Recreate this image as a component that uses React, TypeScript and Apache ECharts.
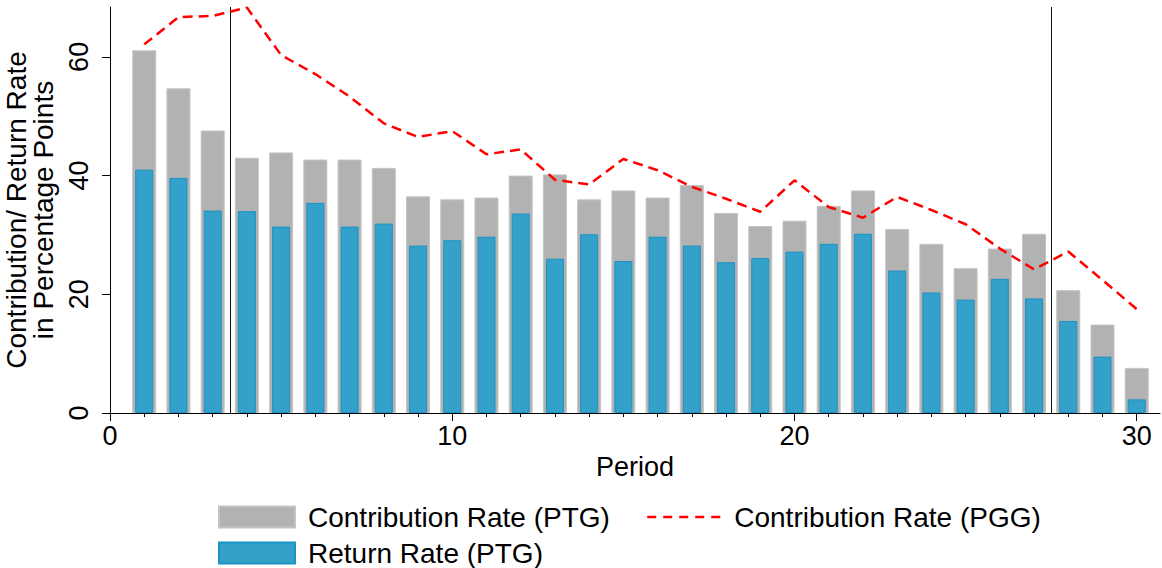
import { useEffect, useRef } from "react";
import * as echarts from "echarts";

const periods = [1, 2, 3, 4, 5, 6, 7, 8, 9, 10, 11, 12, 13, 14, 15, 16, 17, 18, 19, 20, 21, 22, 23, 24, 25, 26, 27, 28, 29, 30];
const contributionPTG = [61.1, 54.7, 47.6, 43.0, 43.9, 42.7, 42.7, 41.3, 36.5, 36.0, 36.3, 40.0, 40.2, 36.0, 37.5, 36.3, 38.4, 33.7, 31.5, 32.4, 34.9, 37.5, 31.0, 28.5, 24.4, 27.7, 30.2, 20.7, 14.9, 7.6];
const returnPTG = [41.0, 39.6, 34.1, 34.0, 31.4, 35.4, 31.4, 31.9, 28.2, 29.1, 29.7, 33.6, 26.0, 30.1, 25.6, 29.7, 28.2, 25.4, 26.1, 27.2, 28.5, 30.2, 24.0, 20.3, 19.1, 22.6, 19.3, 15.5, 9.5, 2.3];
const contributionPGG = [62.1, 66.7, 66.9, 68.3, 60.3, 57.1, 53.3, 48.8, 46.5, 47.5, 43.6, 44.4, 39.3, 38.5, 42.8, 40.9, 38.1, 36.1, 33.9, 39.2, 34.7, 32.9, 36.4, 34.2, 31.8, 27.7, 24.2, 27.2, 22.4, 17.5];
const xMajorTicks = [0, 10, 20, 30];
const yTicks = [0, 20, 40, 60];
const phaseLines = [3.5, 27.5];

const FONT = "'Liberation Sans', Arial, Helvetica, sans-serif";

export default function App() {
  const ref = useRef<HTMLDivElement>(null);
  useEffect(() => {
    const chart = echarts.init(ref.current!, null, { renderer: "svg" });
    const legendText = { fontSize: 28, color: "#000", fontFamily: FONT, padding: [0, 0, 0, 8] };
    chart.setOption({
      animation: false,
      backgroundColor: "#ffffff",
      textStyle: { fontFamily: FONT },
      grid: { left: 110, right: 2, top: 7, bottom: 155, containLabel: false, outerBoundsMode: "none" },
      xAxis: [
        {
          type: "value",
          min: 0,
          max: 30.68,
          position: "bottom",
          axisLine: { show: true, onZero: false, lineStyle: { color: "#000", width: 1 } },
          axisTick: { show: true, length: 8, customValues: xMajorTicks, lineStyle: { color: "#000" } },
          axisLabel: { customValues: xMajorTicks, fontSize: 27, color: "#000", margin: 9, fontFamily: FONT },
          splitLine: { show: false },
          name: "Period",
          nameLocation: "middle",
          nameGap: 37,
          nameTextStyle: { fontSize: 27, color: "#000", fontFamily: FONT },
        },
        {
          type: "value",
          min: 0,
          max: 30.68,
          position: "bottom",
          offset: 0,
          axisLine: { show: false },
          axisTick: { show: true, length: 4, customValues: periods, lineStyle: { color: "#000" } },
          axisLabel: { show: false },
          splitLine: { show: false },
        },
      ],
      yAxis: {
        type: "value",
        min: 0,
        max: 68.4,
        interval: 20,
        axisLine: { show: true, lineStyle: { color: "#000", width: 1 } },
        axisTick: { show: true, length: 8, customValues: yTicks, lineStyle: { color: "#000" } },
        axisLabel: { customValues: yTicks, rotate: 90, fontSize: 27, color: "#000", margin: 18, fontFamily: FONT },
        splitLine: { show: false },
        name: "Contribution/ Return Rate\nin Percentage Points",
        nameLocation: "middle",
        nameRotate: 90,
        nameGap: 42,
        nameTextStyle: { fontSize: 28, lineHeight: 27, color: "#000", fontFamily: FONT },
      },
      legend: [
        {
          data: ["Contribution Rate (PTG)"],
          left: 218,
          top: 503,
          icon: "rect",
          itemWidth: 76,
          itemHeight: 21,
          padding: 0,
          selectedMode: false,
          textStyle: legendText,
        },
        {
          data: ["Contribution Rate (PGG)"],
          left: 646,
          top: 503,
          itemWidth: 74,
          itemHeight: 21,
          padding: 0,
          selectedMode: false,
          itemStyle: { opacity: 0 },
          lineStyle: { color: "#ff0000", width: 2.5, type: [9, 7] },
          textStyle: legendText,
        },
        {
          data: ["Return Rate (PTG)"],
          left: 218,
          top: 539,
          icon: "rect",
          itemWidth: 76,
          itemHeight: 21,
          padding: 0,
          selectedMode: false,
          textStyle: legendText,
        },
      ],
      series: [
        {
          name: "Contribution Rate (PTG)",
          type: "bar",
          xAxisIndex: 0,
          yAxisIndex: 0,
          data: periods.map((p, i) => [p, contributionPTG[i]]),
          barWidth: 24,
          itemStyle: { color: "#b2b2b2", borderColor: "#c4c4c4", borderWidth: 1 },
          markLine: {
            silent: true,
            symbol: ["none", "none"],
            label: { show: false },
            lineStyle: { color: "#111", width: 1, type: "solid" },
            emphasis: { disabled: true },
            data: phaseLines.map((x) => ({ xAxis: x })),
          },
        },
        {
          name: "Return Rate (PTG)",
          type: "bar",
          xAxisIndex: 1,
          yAxisIndex: 0,
          data: periods.map((p, i) => [p, returnPTG[i]]),
          barWidth: 18,
          itemStyle: { color: "#33a1c9", borderColor: "#1b93c4", borderWidth: 1 },
        },
        {
          name: "Contribution Rate (PGG)",
          type: "line",
          xAxisIndex: 0,
          yAxisIndex: 0,
          data: periods.map((p, i) => [p, contributionPGG[i]]),
          symbol: "none",
          z: 5,
          lineStyle: { color: "#ff0000", width: 2.5, type: [10, 6] },
          itemStyle: { color: "#ff0000" },
        },
      ],
    });
    return () => chart.dispose();
  }, []);
  return <div ref={ref} style={{ position: "absolute", left: 0, top: 0, width: 1162, height: 568 }} />;
}
